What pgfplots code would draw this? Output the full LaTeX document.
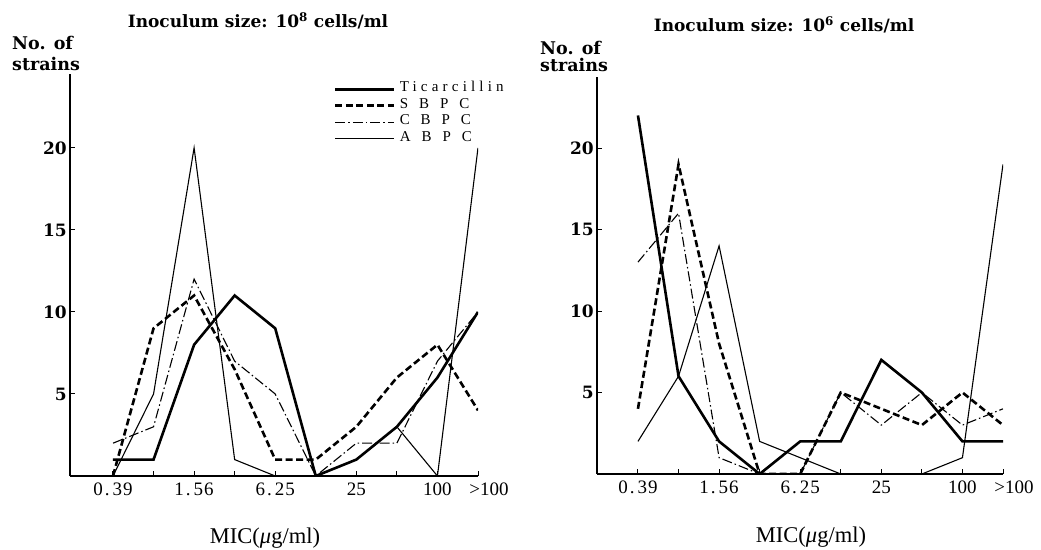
\documentclass[border=0pt]{standalone}
\usepackage{fontspec}
\setmainfont{Liberation Serif}
\newfontfamily\dvs{DejaVu Serif}
\usepackage{pgfplots}
\pgfplotsset{compat=1.18}
\pgfplotsset{
  panel/.style={
    scale only axis, anchor=south west,
    axis x line*=bottom, axis y line*=left,
    axis line style={line width=1.2pt,-},
    ymin=0,
    xtick={0,1,2,3,4,5,6,7,8,9},
    xticklabels={0\kern2pt.\kern3pt3\kern1pt9,,1\kern2pt.\kern3pt5\kern1pt6,,6\kern2pt.\kern3pt2\kern1pt5,,25,,100,\hspace*{22pt}\textgreater100},
    ytick={5,10,15,20}, yticklabels={5,10,15,20},
    tick align=inside, major tick length=5pt,
    tick style={line width=1pt, black},
    xticklabel style={font=\fontsize{19}{19}\selectfont, anchor=north, inner sep=0pt, yshift=-7pt},
    yticklabel style={font=\dvs\bfseries\fontsize{17}{17}\selectfont, anchor=east, inner sep=0pt, xshift=-3pt},
  },
  tic/.style={line width=2.6pt, black},
  sbpc/.style={line width=2.6pt, black, dash pattern=on 7pt off 3.5pt},
  cbpc/.style={line width=1.1pt, black, dash pattern=on 10pt off 3pt on 1.5pt off 3pt},
  abpc/.style={line width=1.1pt, black},
}
\begin{document}
\begin{tikzpicture}
\useasboundingbox (0pt,0pt) rectangle (1041pt,549pt);
% ---------- left panel: 10^8 ----------
\begin{axis}[panel, at={(70pt,73pt)}, width=408pt, height=402pt,
  xmin=-1.06, xmax=9, ymax=24.5,
  legend style={at={(axis description cs:0.647,0.983)}, anchor=north west,
    draw=none, fill=none, inner sep=0pt, row sep=0pt,
    font=\fontsize{15}{15}\selectfont\addfontfeature{LetterSpace=28},
    nodes={inner sep=0pt, text height=10.5pt, text depth=6pt},
    /tikz/every odd column/.append style={column sep=4pt}},
  legend cell align=left,
  legend image code/.code={\draw[#1] (0pt,0pt) -- (59pt,0pt);},
]
\addplot[tic] coordinates {(0,1)(1,1)(2,8)(3,11)(4,9)(5,0)(6,1)(7,3)(8,6)(9,10)};
\addplot[sbpc] coordinates {(0,0)(1,9)(2,11)(3,6.5)(4,1)(5,1)(6,3)(7,6)(8,8)(9,4)};
\addplot[cbpc] coordinates {(0,2)(1,3)(2,12)(3,7)(4,5)(5,0)(6,2)(7,2)(8,7)(9,10)};
\addplot[abpc] coordinates {(0,0)(1,5)(2,20)(3,1)(4,0)(5,0)(6,1)(7,3)(8,0)(9,20)};
\legend{Ticarcillin, S\hspace{3pt} B\hspace{3pt} P\hspace{3pt} C, C\hspace{3pt} B\hspace{3pt} P\hspace{3pt} C, A\hspace{3pt} B\hspace{3pt} P\hspace{3pt} C}
\end{axis}
% ---------- right panel: 10^6 ----------
\begin{axis}[panel, at={(597pt,75pt)}, width=406pt, height=397pt,
  xmin=-1.01, xmax=9, ymax=24.36]
\addplot[tic] coordinates {(0,22)(1,6)(2,2)(3,0)(4,2)(5,2)(6,7)(7,5)(8,2)(9,2)};
\addplot[sbpc] coordinates {(0,4)(1,19)(2,8)(3,0)(4,0)(5,5)(6,4)(7,3)(8,5)(9,3)};
\addplot[cbpc] coordinates {(0,13)(1,16)(2,1)(3,0)(4,0)(5,5)(6,3)(7,5)(8,3)(9,4)};
\addplot[abpc] coordinates {(0,2)(1,6)(2,14)(3,2)(4,1)(5,0)(6,0)(7,0)(8,1)(9,19)};
\end{axis}
% ---------- titles and labels ----------
\node[anchor=base, font=\dvs\bfseries\fontsize{17}{17}\selectfont] at (258pt,521pt) {Inoculum size: 10\textsuperscript{8} cells/ml};
\node[anchor=base, font=\dvs\bfseries\fontsize{17}{17}\selectfont] at (784pt,517pt) {Inoculum size: 10\textsuperscript{6} cells/ml};
\node[anchor=base west, inner sep=0pt, font=\dvs\bfseries\fontsize{17.5}{17.5}\selectfont] at (12pt,499pt) {No. of};
\node[anchor=base west, inner sep=0pt, font=\dvs\bfseries\fontsize{17.5}{17.5}\selectfont] at (12pt,478pt) {strains};
\node[anchor=base west, inner sep=0pt, font=\dvs\bfseries\fontsize{17.5}{17.5}\selectfont] at (540pt,494pt) {No. of};
\node[anchor=base west, inner sep=0pt, font=\dvs\bfseries\fontsize{17.5}{17.5}\selectfont] at (540pt,477pt) {strains};
\node[anchor=base, font=\fontsize{22.5}{22.5}\selectfont] at (265pt,6pt) {MIC(\textit{μ}g/ml)};
\node[anchor=base, font=\fontsize{22.5}{22.5}\selectfont] at (811pt,7pt) {MIC(\textit{μ}g/ml)};
\end{tikzpicture}
\end{document}
